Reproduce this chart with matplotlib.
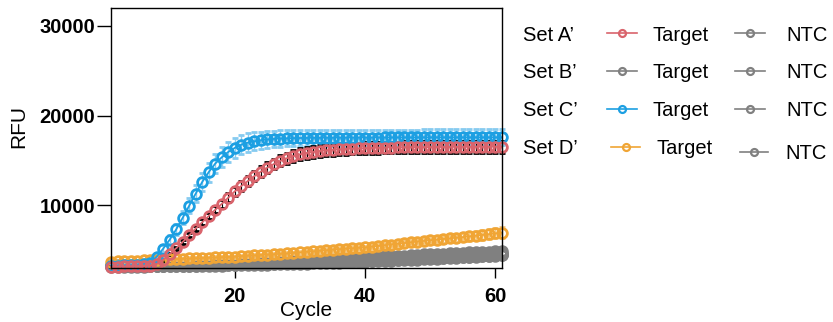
import matplotlib
matplotlib.use("Agg")
import matplotlib.pyplot as plt
from matplotlib.lines import Line2D

plt.rcParams['font.family'] = ['Liberation Sans', 'DejaVu Sans']

cycles = list(range(1, 62))

# Set A' Target (red)
a_target = [3150, 3160, 3170, 3180, 3190, 3210, 3260, 3450, 3900, 4550,
            5200, 5900, 6650, 7400, 8100, 8800, 9500, 10150, 10850, 11550,
            12150, 12700, 13250, 13750, 14200, 14600, 14950, 15250, 15480, 15680,
            15830, 15950, 16050, 16120, 16180, 16230, 16270, 16310, 16340, 16370,
            16390, 16410, 16430, 16440, 16450, 16460, 16470, 16480, 16480, 16490,
            16490, 16500, 16500, 16510, 16510, 16510, 16520, 16520, 16520, 16530, 16530]
a_target_err = [40, 40, 40, 40, 40, 40, 40, 50, 80, 120,
                160, 200, 240, 280, 320, 360, 400, 430, 460, 490,
                520, 540, 560, 580, 600, 610, 620, 630, 640, 650,
                650, 650, 650, 650, 650, 650, 650, 650, 650, 650,
                650, 650, 650, 650, 650, 650, 650, 650, 650, 650,
                650, 650, 650, 650, 650, 650, 650, 650, 650, 650, 650]

# Set C' Target (blue)
c_target = [3250, 3270, 3290, 3320, 3360, 3450, 3600, 4250, 5150, 6150,
            7300, 8600, 9950, 11300, 12600, 13700, 14650, 15350, 15950, 16400,
            16750, 16980, 17130, 17250, 17340, 17400, 17440, 17470, 17490, 17500,
            17510, 17520, 17520, 17530, 17530, 17540, 17540, 17540, 17550, 17550,
            17550, 17550, 17560, 17560, 17560, 17560, 17560, 17560, 17570, 17570,
            17570, 17570, 17570, 17570, 17570, 17570, 17570, 17570, 17570, 17570, 17570]
c_target_err = [80, 80, 80, 80, 80, 80, 150, 250, 380, 500,
                620, 730, 830, 920, 1000, 1060, 1100, 1120, 1120, 1100,
                1070, 1040, 1000, 970, 950, 930, 920, 910, 900, 900,
                890, 890, 880, 880, 880, 880, 880, 880, 880, 880,
                880, 880, 880, 880, 880, 880, 880, 880, 880, 880,
                880, 880, 880, 880, 880, 880, 880, 880, 880, 880, 880]

# Set D' Target (orange)
d_target = [3700, 3730, 3760, 3790, 3820, 3850, 3880, 3910, 3940, 3970,
            4000, 4030, 4060, 4090, 4120, 4150, 4180, 4210, 4240, 4270,
            4340, 4380, 4420, 4460, 4500, 4540, 4580, 4630, 4690, 4750,
            4800, 4860, 4920, 4980, 5040, 5100, 5150, 5200, 5250, 5300,
            5380, 5460, 5540, 5620, 5700, 5780, 5860, 5940, 6020, 6100,
            6170, 6240, 6310, 6380, 6450, 6530, 6610, 6690, 6770, 6860, 6950]
d_target_err = [100, 100, 100, 100, 100, 100, 100, 100, 100, 100,
                120, 120, 120, 120, 120, 120, 120, 120, 120, 120,
                150, 150, 150, 150, 150, 150, 150, 150, 150, 150,
                200, 200, 200, 200, 200, 200, 200, 200, 200, 200,
                300, 300, 300, 300, 300, 300, 300, 300, 300, 300,
                380, 400, 420, 440, 460, 480, 500, 520, 540, 560, 580]

# Grey series: Set B' Target and the four NTCs
b_target = [3350, 3360, 3370, 3380, 3390, 3400, 3420, 3440, 3460, 3480,
            3500, 3520, 3540, 3560, 3580, 3600, 3620, 3640, 3660, 3680,
            3700, 3720, 3740, 3760, 3780, 3800, 3820, 3840, 3870, 3900,
            3930, 3960, 3990, 4020, 4050, 4080, 4110, 4140, 4170, 4200,
            4230, 4260, 4290, 4320, 4350, 4390, 4430, 4470, 4510, 4550,
            4580, 4610, 4640, 4670, 4700, 4730, 4760, 4790, 4820, 4860, 4900]
a_ntc = [3250, 3260, 3270, 3280, 3290, 3300, 3310, 3320, 3340, 3360,
         3380, 3400, 3420, 3440, 3460, 3480, 3500, 3520, 3540, 3560,
         3580, 3600, 3620, 3640, 3660, 3680, 3700, 3720, 3740, 3760,
         3790, 3820, 3850, 3880, 3910, 3940, 3970, 4000, 4030, 4060,
         4090, 4120, 4150, 4180, 4210, 4240, 4270, 4300, 4340, 4380,
         4420, 4450, 4480, 4510, 4540, 4570, 4600, 4630, 4660, 4690, 4720]
b_ntc = [3200, 3205, 3210, 3220, 3230, 3240, 3250, 3260, 3270, 3280,
         3300, 3320, 3340, 3360, 3380, 3400, 3420, 3440, 3460, 3480,
         3500, 3520, 3540, 3560, 3580, 3600, 3620, 3640, 3660, 3680,
         3700, 3720, 3740, 3770, 3800, 3830, 3860, 3890, 3920, 3950,
         3980, 4010, 4040, 4070, 4100, 4130, 4160, 4190, 4220, 4250,
         4280, 4310, 4340, 4370, 4400, 4430, 4460, 4490, 4520, 4550, 4580]
c_ntc = [3170, 3175, 3180, 3185, 3190, 3195, 3200, 3210, 3220, 3230,
         3240, 3250, 3260, 3270, 3280, 3300, 3320, 3340, 3360, 3380,
         3400, 3420, 3440, 3460, 3480, 3500, 3520, 3540, 3560, 3580,
         3600, 3620, 3640, 3660, 3680, 3700, 3720, 3740, 3760, 3790,
         3820, 3850, 3880, 3910, 3940, 3970, 4000, 4030, 4060, 4090,
         4120, 4150, 4180, 4210, 4240, 4270, 4300, 4330, 4360, 4400, 4440]
d_ntc = [3140, 3145, 3150, 3155, 3160, 3165, 3170, 3175, 3180, 3190,
         3200, 3210, 3220, 3230, 3240, 3250, 3260, 3270, 3280, 3290,
         3300, 3320, 3340, 3360, 3380, 3400, 3420, 3440, 3460, 3480,
         3500, 3520, 3540, 3560, 3580, 3600, 3620, 3640, 3670, 3700,
         3730, 3760, 3790, 3820, 3850, 3880, 3910, 3940, 3970, 4000,
         4040, 4080, 4120, 4160, 4200, 4240, 4280, 4320, 4350, 4380, 4400]

set_labels = ["Set A\u2019", "Set B\u2019", "Set C\u2019", "Set D\u2019"]
x_ticks = [20, 40, 60]
y_ticks = [10000, 20000, 30000]

RED = '#D9646C'
BLUE = '#1C9FE2'
ORANGE = '#F0A535'
GREY = '#808080'
target_colors = [RED, GREY, BLUE, ORANGE]

W, H = 833, 322
fig = plt.figure(figsize=(W / 100, H / 100), dpi=100)
ax = fig.add_axes([111 / W, 1 - 268 / H, (502 - 111) / W, (268 - 8) / H])

mk = dict(marker='o', ms=7, mew=2.0, mfc='none', lw=1.3, clip_on=False)

for s in [d_ntc, c_ntc, b_ntc, a_ntc, b_target]:
    ax.plot(cycles, s, color=GREY, **mk)

ax.errorbar(cycles, d_target, yerr=d_target_err, color=ORANGE, ecolor='#F5C880',
            elinewidth=1, capsize=2.5, capthick=1, **mk)
ax.errorbar(cycles, c_target, yerr=c_target_err, color=BLUE, ecolor='#86CBF0',
            elinewidth=1, capsize=2.5, capthick=1, **mk)
ax.errorbar(cycles, a_target, yerr=a_target_err, color=RED, ecolor='black',
            elinewidth=0.8, capsize=2.5, capthick=0.8, **mk)

ax.set_xlim(1, 61)
ax.set_ylim(3000, 32000)
ax.set_xticks(x_ticks)
ax.set_yticks(y_ticks)
for lbl in ax.get_xticklabels() + ax.get_yticklabels():
    lbl.set_fontweight('bold')
    lbl.set_fontsize(14.5)
ax.tick_params(axis='y', length=10, width=1, pad=1.5)
ax.tick_params(axis='x', length=7.5, width=1, pad=6)
for sp in ax.spines.values():
    sp.set_linewidth(1)

ax.set_ylabel('RFU', fontsize=15)
ax.yaxis.label.set_va('center')
ax.yaxis.set_label_coords(-(111 - 19) / 391, (268 - 127) / 260)
ax.set_xlabel('Cycle', fontsize=15)
ax.xaxis.label.set_va('baseline')
ax.xaxis.set_label_coords(0.5, -(316.5 - 268) / 260)

# Legend (manual grid)
def fx(px):
    return px / W

def fy(py):
    return 1 - py / H

rows = [33.3, 70.7, 109.0, 147.0]
tgt_line = [(607, 637, 622), (607, 637, 622), (607, 637, 622), (611, 640, 626)]
tgt_text = [652.7, 652.7, 652.7, 656.7]
ntc_rows = [33.3, 70.7, 109.0, 151.5]
ntc_line = [(735, 765, 750), (735, 765, 750), (735, 765, 750), (740, 768, 754)]
ntc_text = [786.7, 786.7, 786.7, 785]
fs = 14.5
for i, lab in enumerate(set_labels):
    fig.text(fx(522.7), fy(rows[i] + 7.5), lab, fontsize=fs, va='baseline', ha='left')
    x0, x1, xm = tgt_line[i]
    fig.add_artist(Line2D([fx(x0), fx(x1)], [fy(rows[i])] * 2, color=target_colors[i],
                          lw=1.2, transform=fig.transFigure))
    fig.add_artist(Line2D([fx(xm)], [fy(rows[i])], color=target_colors[i], marker='o',
                          ms=5, mew=1.6, mfc='none', transform=fig.transFigure))
    fig.text(fx(tgt_text[i]), fy(rows[i] + 7.5), 'Target', fontsize=fs, va='baseline', ha='left')
    x0, x1, xm = ntc_line[i]
    fig.add_artist(Line2D([fx(x0), fx(x1)], [fy(ntc_rows[i])] * 2, color=GREY,
                          lw=1.2, transform=fig.transFigure))
    fig.add_artist(Line2D([fx(xm)], [fy(ntc_rows[i])], color=GREY, marker='o',
                          ms=5, mew=1.6, mfc='none', transform=fig.transFigure))
    fig.text(fx(ntc_text[i]), fy(ntc_rows[i] + 7.5), 'NTC', fontsize=fs, va='baseline', ha='left')

fig.savefig('out.png', dpi=100)
